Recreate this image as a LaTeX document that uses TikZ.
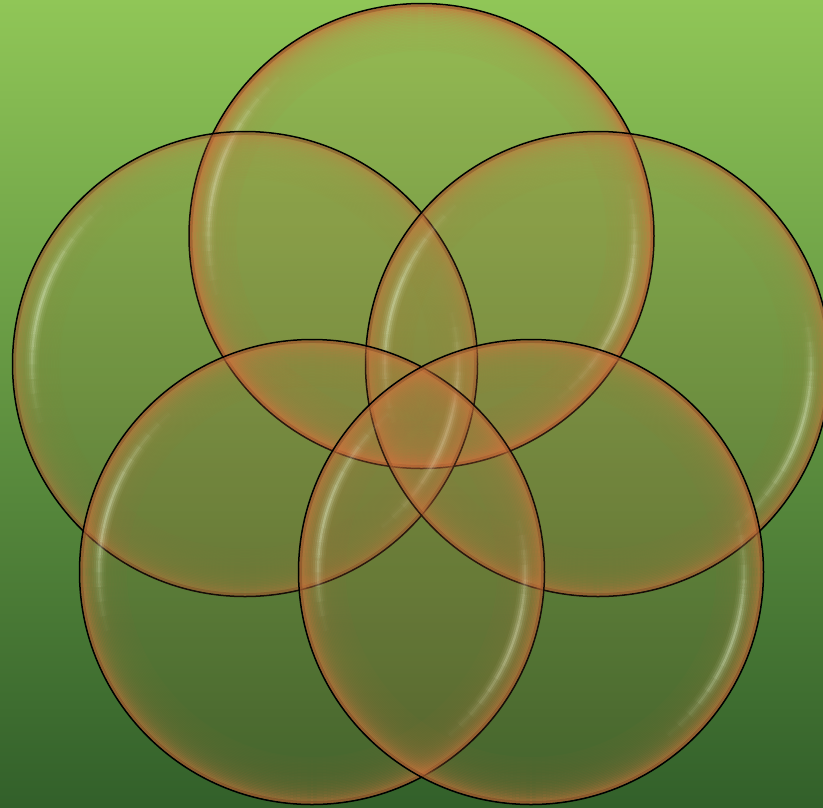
\documentclass[tikz,border=0pt]{standalone}
\definecolor{bgtop}{HTML}{90C657}
\definecolor{bgmid}{HTML}{6FA445}
\definecolor{bgbot}{HTML}{32602A}
\definecolor{rimcol}{HTML}{CC733C}
\definecolor{fillcol}{HTML}{D27440}
\definecolor{hilite}{HTML}{E2F2CC}
\definecolor{innerdark}{HTML}{5A2E18}

\tikzset{
  bubblefill/.style={fillcol, fill opacity=0.11},
  bubblering/.style={rimcol, line width=1.7},
  bubblehl/.style={hilite, line width=2.1},
  bubbleinner/.style={innerdark, line width=2.5, draw opacity=0.3},
  bubbleedge/.style={black, line width=1.5},
}

\newcommand\Rb{232.5}
% #1 = centre coordinate, #2 = rim strength
\newcommand\drawbubble[2]{%
  \fill[bubblefill] (#1) circle[radius=\Rb];
  \foreach \k in {0,...,30} {
    \pgfmathsetmacro\rr{\Rb-1.6-1.5*\k}
    \pgfmathsetmacro\ro{#2*(0.75*exp(-\k*1.5/8)+0.25*exp(-\k*1.5/25))}
    \draw[bubblering, draw opacity=\ro] (#1) circle[radius=\rr];
  }
  \foreach \a in {164,-18} {
    \foreach \i in {0,...,17} {
      \pgfmathsetmacro\sa{\a-36+4*\i}
      \pgfmathsetmacro\op{(sin(10*(\i+0.5)))^2}
      \foreach \d/\w in {-6/0.06,-4/0.14,-2/0.3,0/0.5,2/0.3,4/0.14,6/0.06} {
        \pgfmathsetmacro\oo{\op*\w}
        \pgfmathsetmacro\hr{213+\d}
        \draw[bubblehl, draw opacity=\oo] (#1) ++(\sa:\hr) arc[start angle=\sa, delta angle=4, radius=\hr];
      }
    }
  }
  \draw[bubbleinner] (#1) circle[radius=\Rb-2.2];
  \draw[bubbleedge] (#1) circle[radius=\Rb];
}

\begin{document}
\begin{tikzpicture}[x=1pt,y=1pt]
  \useasboundingbox (0,0) rectangle (823,-807);
  \shade[top color=bgtop, middle color=bgmid, bottom color=bgbot] (0,0) rectangle (823,-807);
  \coordinate (ctop) at (421.5,-236);
  \coordinate (cleft) at (245,-364);
  \coordinate (cright) at (598,-364);
  \coordinate (cbl) at (312,-572);
  \coordinate (cbr) at (531,-572);
  \drawbubble{ctop}{0.85}
  \drawbubble{cleft}{0.45}
  \drawbubble{cright}{0.6}
  \drawbubble{cbl}{0.65}
  \drawbubble{cbr}{0.7}
\end{tikzpicture}
\end{document}
